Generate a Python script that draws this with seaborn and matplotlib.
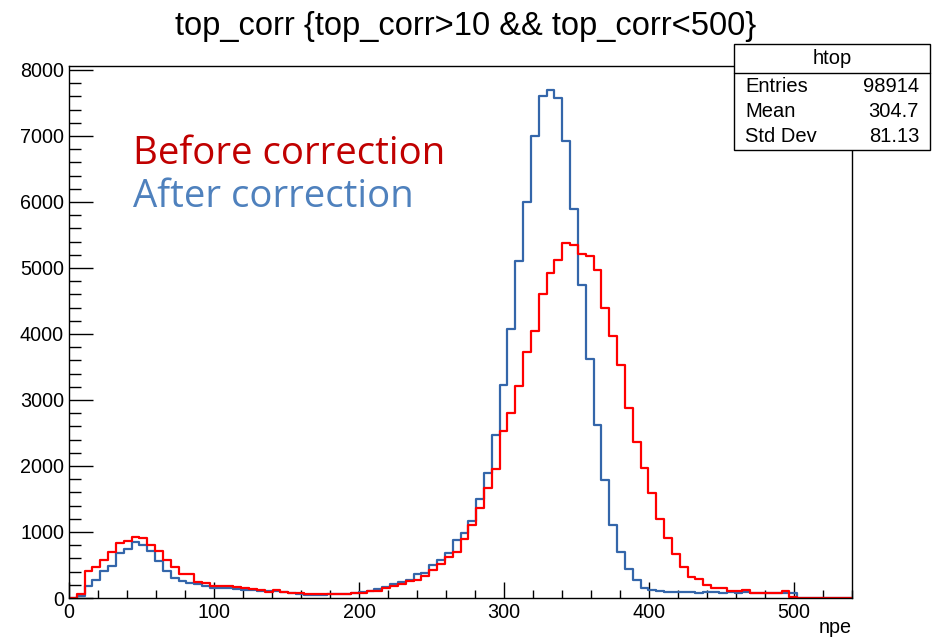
import numpy as np
import pandas as pd
import matplotlib
matplotlib.use("Agg")
import matplotlib.pyplot as plt
from matplotlib.patches import Rectangle
from matplotlib.lines import Line2D
from matplotlib.ticker import MultipleLocator
import seaborn as sns

# ---------------- data ----------------
x_range = (0.0, 540.0)
n_bins = 100

before_counts = [
    0, 60, 411, 477, 579, 696, 833, 859, 930, 904,
    808, 716, 579, 477, 366, 366, 249, 224, 183, 178,
    178, 160, 150, 130, 125, 90, 120, 90, 80, 70,
    65, 60, 60, 55, 60, 60, 80, 80, 107, 107,
    152, 178, 213, 264, 279, 340, 427, 508, 620, 696,
    889, 1102, 1360, 1660, 1960, 2535, 2805, 3206, 3720, 4050,
    4604, 4924, 5127, 5371, 5346, 5218, 5185, 4962, 4390, 3974,
    3526, 2881, 2358, 1966, 1596, 1204, 910, 671, 477, 325,
    285, 200, 147, 147, 112, 112, 122, 81, 81, 81,
    81, 112, 10, 0, 0, 0, 0, 0, 0, 0,
]

after_counts = [
    0, 25, 183, 274, 411, 488, 681, 742, 849, 798,
    706, 554, 416, 300, 264, 224, 215, 183, 147, 147,
    147, 130, 120, 115, 110, 105, 100, 90, 70, 60,
    45, 40, 45, 55, 60, 60, 75, 85, 105, 130,
    163, 213, 249, 279, 366, 381, 493, 569, 681, 874,
    986, 1168, 1500, 1890, 2470, 3232, 4075, 5112, 6006, 7002,
    7612, 7703, 7581, 6921, 5899, 4736, 3615, 2625, 1795, 1102,
    696, 437, 274, 158, 122, 101, 95, 95, 90, 90,
    80, 85, 95, 80, 85, 80, 85, 80, 80, 70,
    70, 70, 70, 0, 0, 0, 0, 0, 0, 0,
]

series_names = ["Before correction", "After correction"]
x_ticks = [0, 100, 200, 300, 400, 500]
y_ticks = [0, 1000, 2000, 3000, 4000, 5000, 6000, 7000, 8000]
title_text = "top_corr {top_corr>10 && top_corr<500}"
x_label = "npe"
stats_name = "htop"
stats_labels = ["Entries", "Mean", "Std Dev"]
stats_values = ["98914", "304.7", "81.13"]

# ---------------- styling ----------------
sns.set_style("ticks")
plt.rcParams["font.family"] = ["Liberation Sans", "DejaVu Sans"]
for key in ["text.color", "axes.labelcolor", "xtick.color", "ytick.color", "axes.edgecolor"]:
    plt.rcParams[key] = "black"

W, H = 932, 640
fig = plt.figure(figsize=(W / 100, H / 100), dpi=100)

def fx(px):
    return px / W

def fy(py):
    return 1 - py / H

ax_l, ax_r, ax_t, ax_b = 69, 852, 66, 598
ax = fig.add_axes([fx(ax_l), fy(ax_b), fx(ax_r) - fx(ax_l), fy(ax_t) - fy(ax_b)])

edges = np.linspace(x_range[0], x_range[1], n_bins + 1)
centers = 0.5 * (edges[:-1] + edges[1:])

df = pd.DataFrame({
    "npe": np.concatenate([centers, centers]),
    "count": np.concatenate([before_counts, after_counts]),
    "series": [series_names[0]] * n_bins + [series_names[1]] * n_bins,
})

line_colors = {"Before correction": "#FF0000", "After correction": "#3466AA"}
text_colors = {"Before correction": "#C00000", "After correction": "#4F81BD"}

# draw blue first, red on top
for name in [series_names[1], series_names[0]]:
    sns.histplot(
        data=df[df["series"] == name], x="npe", weights="count",
        bins=list(edges), element="step", fill=False,
        color=line_colors[name], linewidth=1.6, ax=ax,
    )

ax.set_xlim(*x_range)
ax.set_ylim(0, 8060)
ax.set_xticks(x_ticks)
ax.set_yticks(y_ticks)
ax.xaxis.set_minor_locator(MultipleLocator(20))
ax.yaxis.set_minor_locator(MultipleLocator(200))

ax.tick_params(axis="both", which="both", direction="in", width=1.0, color="black",
               labelcolor="black", labelsize=14.2, pad=3.6, top=False, right=False)
ax.tick_params(axis="x", which="major", length=11.5)
ax.tick_params(axis="x", which="minor", length=5.8)
ax.tick_params(axis="y", which="major", length=17)
ax.tick_params(axis="y", which="minor", length=8.5)

for sp in ax.spines.values():
    sp.set_visible(True)
    sp.set_linewidth(1.0)
    sp.set_color("black")

ax.set_ylabel("")
ax.set_xlabel(x_label, fontsize=14.2, ha="right", va="top", color="black")
ax.xaxis.set_label_coords(1.0, -(618 - ax_b) / (ax_b - ax_t))

# title
fig.text(0.5, fy(26), title_text, ha="center", va="center", fontsize=23.5, color="black")

# annotation texts
ax.text(fx(133), fy(164), series_names[0], transform=fig.transFigure,
        ha="left", va="baseline", fontsize=27.6, color=text_colors[series_names[0]],
        family=["Open Sans", "DejaVu Sans"])
ax.text(fx(133), fy(207), series_names[1], transform=fig.transFigure,
        ha="left", va="baseline", fontsize=27.6, color=text_colors[series_names[1]],
        family=["Open Sans", "DejaVu Sans"])

# stats box
bx0, bx1, by0, by1, by_sep = 734, 930, 44, 150, 73
rect = Rectangle((fx(bx0), fy(by1)), fx(bx1) - fx(bx0), fy(by0) - fy(by1),
                 transform=fig.transFigure, facecolor="white", edgecolor="black",
                 linewidth=1.0, zorder=5)
fig.add_artist(rect)
fig.add_artist(Line2D([fx(bx0), fx(bx1)], [fy(by_sep), fy(by_sep)],
                      transform=fig.transFigure, color="black", linewidth=1.0, zorder=6))
fig.text(fx((bx0 + bx1) / 2), fy(58), stats_name, ha="center", va="center",
         fontsize=14.5, zorder=7, color="black")
for i, (lab, val) in enumerate(zip(stats_labels, stats_values)):
    yy = fy(86 + i * 25.5)
    fig.text(fx(745), yy, lab, ha="left", va="center", fontsize=14.5, zorder=7, color="black")
    fig.text(fx(919), yy, val, ha="right", va="center", fontsize=14.5, zorder=7, color="black")

fig.savefig("out.png", dpi=100)
